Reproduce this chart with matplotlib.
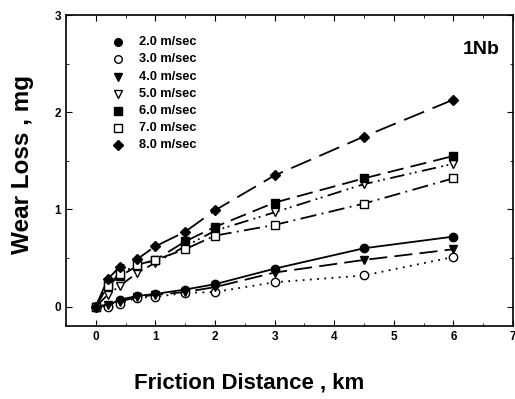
import matplotlib
matplotlib.use("Agg")
import matplotlib.pyplot as plt
from matplotlib.ticker import MultipleLocator

plt.rcParams['font.family'] = ['Liberation Sans', 'DejaVu Sans']

distance = [0, 0.2, 0.4, 0.7, 1.0, 1.5, 2.0, 3.0, 4.5, 6.0]
labels = ["2.0 m/sec", "3.0 m/sec", "4.0 m/sec", "5.0 m/sec", "6.0 m/sec", "7.0 m/sec", "8.0 m/sec"]
v2 = [0, 0.01, 0.07, 0.11, 0.13, 0.175, 0.23, 0.39, 0.60, 0.72]
v3 = [0, 0.0, 0.03, 0.09, 0.10, 0.14, 0.15, 0.25, 0.32, 0.51]
v4 = [0, 0.02, 0.05, 0.10, 0.12, 0.15, 0.20, 0.35, 0.48, 0.59]
v5 = [0, 0.12, 0.21, 0.35, 0.45, 0.62, 0.78, 0.97, 1.26, 1.47]
v6 = [0, 0.22, 0.31, 0.42, 0.48, 0.67, 0.82, 1.07, 1.32, 1.55]
v7 = [0, 0.21, 0.34, 0.43, 0.48, 0.59, 0.73, 0.84, 1.06, 1.32]
v8 = [0, 0.28, 0.41, 0.49, 0.62, 0.77, 0.99, 1.35, 1.75, 2.13]

series = [v2, v3, v4, v5, v6, v7, v8]
markers = ['o', 'o', 'v', 'v', 's', 's', 'D']
filled = [True, False, True, False, True, False, True]
styles = ['-', (0, (1, 3)), (0, (10, 4)), (0, (8, 3, 1, 2, 1, 3)),
          (0, (9, 4)), (0, (9, 3, 1, 3)), (0, (12, 5))]

fig = plt.figure(figsize=(5.15, 3.99), dpi=100)
ax = fig.add_axes([0.128, 0.183, 0.868, 0.779])

for y, m, f, ls in zip(series, markers, filled, styles):
    ax.plot(distance, y, linestyle=ls, color='black', linewidth=1.3,
            marker=m, markersize=6 if m != 'D' else 5.5,
            markerfacecolor='black' if f else 'white',
            markeredgecolor='black', markeredgewidth=1.0)

# legend drawn as marker + text
leg_x_marker = 0.37
leg_x_text = 0.72
for i, (lab, m, f) in enumerate(zip(labels, markers, filled)):
    yy = 2.72 - i * 0.176
    ax.plot([leg_x_marker], [yy], marker=m, linestyle='none', color='black',
            markersize=5.5,
            markerfacecolor='black' if f else 'white', markeredgecolor='black',
            markeredgewidth=1.0)
    ax.text(leg_x_text, yy, lab, fontsize=9.2, fontweight='bold', va='center', ha='left')

ax.text(0.97, 0.89, "1Nb", transform=ax.transAxes, fontsize=14, fontweight='bold',
        ha='right', va='center')

ax.set_xlim(-0.5, 7)
ax.set_ylim(-0.2, 3)
ax.set_xticks(range(0, 8))
ax.set_yticks(range(0, 4))
ax.xaxis.set_minor_locator(MultipleLocator(0.5))
ax.yaxis.set_minor_locator(MultipleLocator(0.5))
ax.tick_params(which='both', direction='in', top=True, right=True, labelsize=8.5)
ax.tick_params(which='major', length=4)
ax.tick_params(which='minor', length=2)
for lab in ax.get_xticklabels() + ax.get_yticklabels():
    lab.set_fontweight('bold')
for s in ax.spines.values():
    s.set_linewidth(1.2)

ax.set_xlabel("Friction Distance , km", fontsize=16, fontweight='bold')
ax.set_ylabel("Wear Loss , mg", fontsize=17.5, fontweight='bold')
ax.xaxis.set_label_coords(0.41, -0.15)
ax.yaxis.set_label_coords(-0.071, 0.52)

fig.savefig("out.png", dpi=100)
